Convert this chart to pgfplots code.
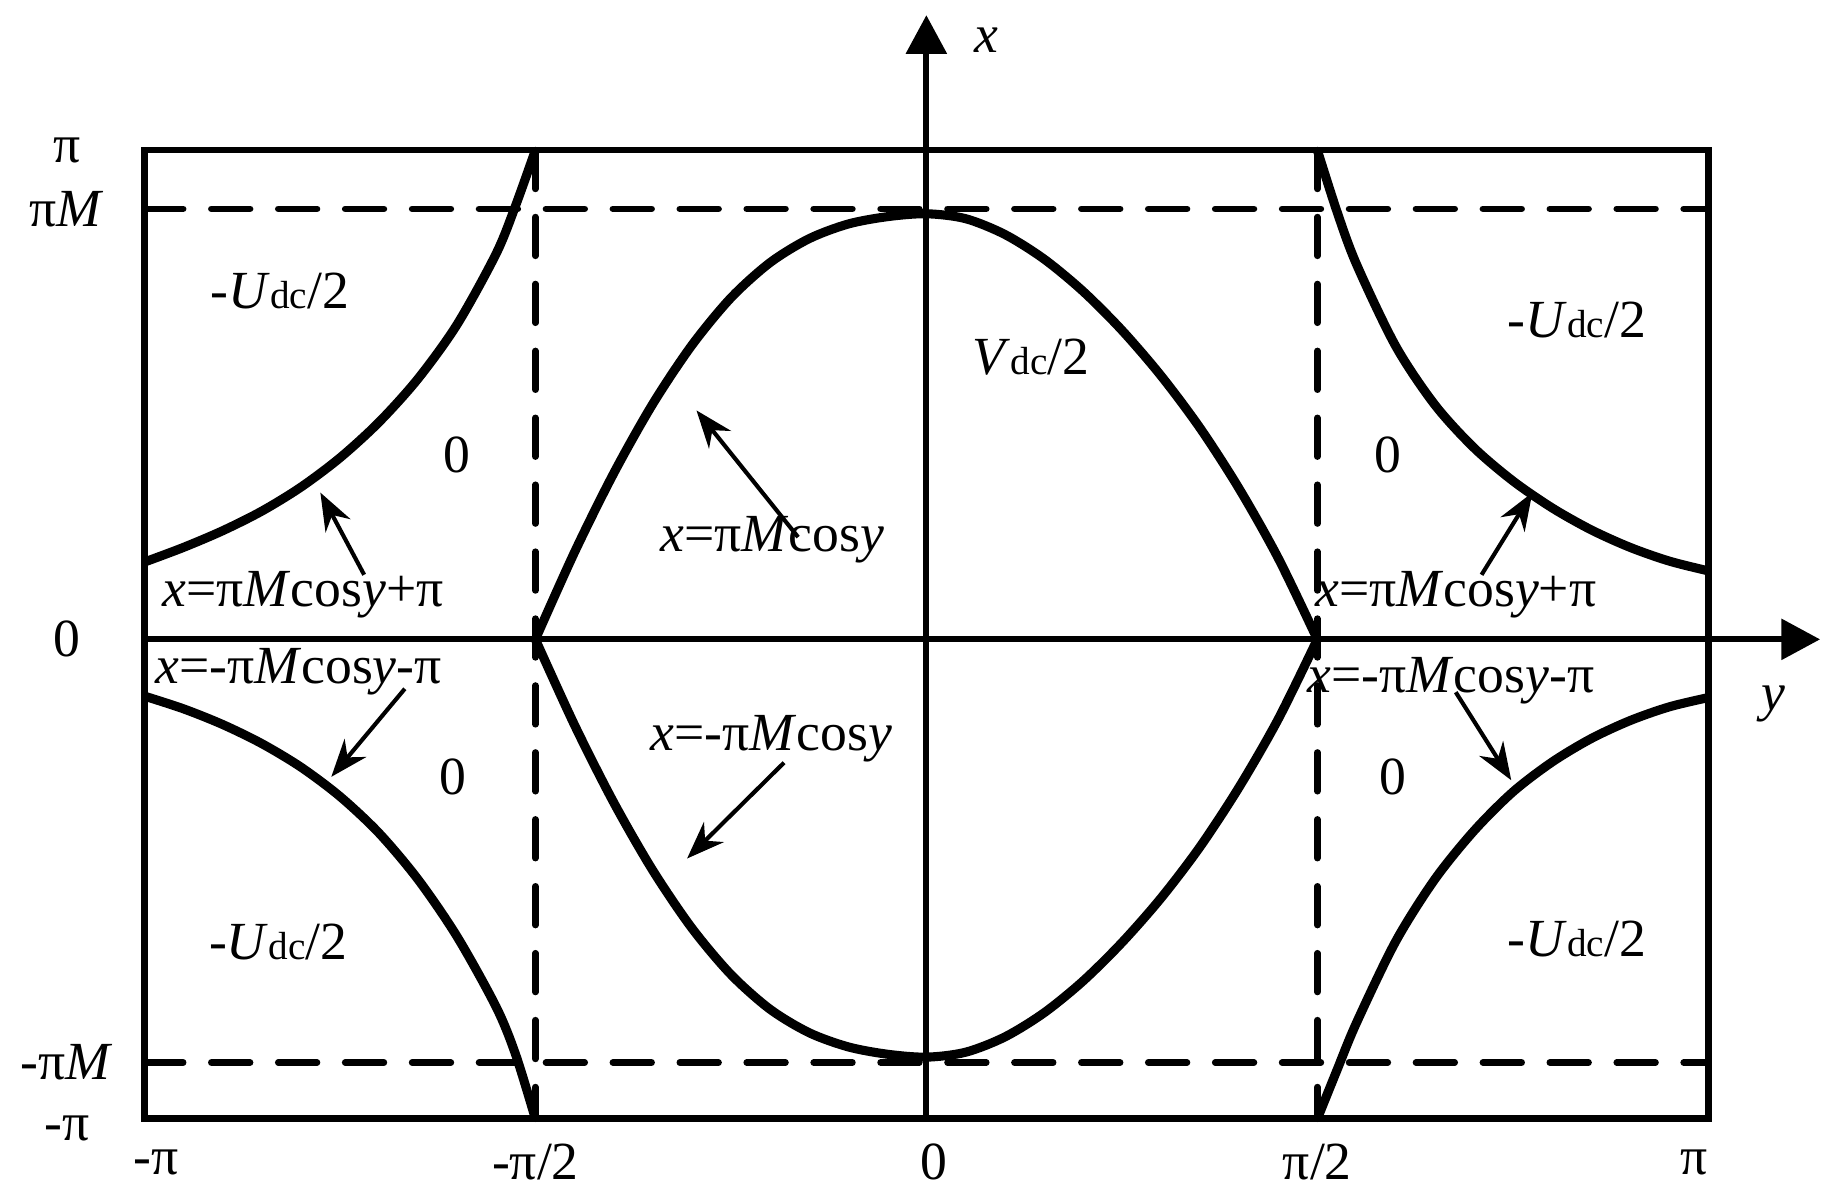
\documentclass[border=0pt]{standalone}
\usepackage{fontspec}
\setmainfont{Liberation Serif}
\usepackage{pgfplots}
\pgfplotsset{compat=1.18}
\usetikzlibrary{arrows.meta}

\newcommand{\dc}{{\fontsize{9.5}{10}\selectfont dc}}
\newcommand{\ud}{-\textit{U}\dc/2}

\begin{document}
\begin{tikzpicture}[font=\fontsize{13}{15}\selectfont]
\begin{axis}[
  scale only axis, width=13.32cm, height=8.25cm,
  xmin=-1, xmax=1, ymin=-0.98, ymax=1,
  axis lines=box,
  axis line style={line width=1.6pt},
  xtick={-1,-0.5,0,0.5,1},
  xticklabels={\hspace*{0.2cm}-π,-π/2,\hspace*{0.12cm}0,π/2,π\hspace*{0.24cm}},
  ytick={-0.865,0,0.88,1},
  yticklabels={-π\textit{M},0,π\textit{M},π},
  major tick length=0pt,
  tick label style={font=\fontsize{13}{15}\selectfont},
  xticklabel style={anchor=center, yshift=-0.37cm},
  yticklabel style={anchor=center, xshift=-0.66cm},
  clip=false,
]
% page size
\path (axis cs:-1.1847,1.307) rectangle (axis cs:1.1697,-1.151);
\node at (axis cs:-1.099,-1.0) {-π};

% dashed guides at +-pi/2 and +-pi M
\addplot[line width=1.6pt, line cap=round, dash pattern=on 0.33cm off 0.24cm] coordinates {(-1,0.88) (1,0.88)};
\addplot[line width=1.6pt, line cap=round, dash pattern=on 0.33cm off 0.24cm] coordinates {(-1,-0.865) (1,-0.865)};
\addplot[line width=1.6pt, line cap=round, dash pattern=on 0.33cm off 0.24cm] coordinates {(-0.5,1) (-0.5,-0.98)};
\addplot[line width=1.6pt, line cap=round, dash pattern=on 0.33cm off 0.24cm] coordinates {(0.5,1) (0.5,-0.98)};

% axes through the origin
\draw[line width=1.5pt, -{Triangle[length=0.33cm,width=0.34cm]}] (axis cs:-1,0) -- (axis cs:1.143,0);
\draw[line width=1.5pt, -{Triangle[length=0.33cm,width=0.34cm]}] (axis cs:0,-0.98) -- (axis cs:0,1.276);
\node at (axis cs:0.077,1.225) {\textit{x}};
\node at (axis cs:1.083,-0.132) {\textit{y}};

% x = pi M cos y
\addplot[line width=2.2pt, smooth, line join=round] coordinates {
  (-0.5,0) (-0.45,0.178) (-0.40,0.339) (-0.35,0.481) (-0.30,0.601)
  (-0.25,0.698) (-0.20,0.770) (-0.15,0.819) (-0.10,0.849) (-0.05,0.864)
  (0,0.870)
  (0.05,0.860) (0.10,0.828) (0.15,0.778) (0.20,0.712) (0.25,0.632)
  (0.30,0.539) (0.35,0.432) (0.40,0.308) (0.45,0.166) (0.5,0)
};
% x = -pi M cos y
\addplot[line width=2.2pt, smooth, line join=round] coordinates {
  (-0.5,0) (-0.45,-0.175) (-0.40,-0.333) (-0.35,-0.472) (-0.30,-0.590)
  (-0.25,-0.685) (-0.20,-0.756) (-0.15,-0.804) (-0.10,-0.833) (-0.05,-0.848)
  (0,-0.854)
  (0.05,-0.844) (0.10,-0.813) (0.15,-0.764) (0.20,-0.699) (0.25,-0.620)
  (0.30,-0.529) (0.35,-0.424) (0.40,-0.302) (0.45,-0.163) (0.5,0)
};
% x = pi M cos y + pi
\addplot[line width=2.2pt, smooth] coordinates {
  (-1,0.158) (-0.95,0.188) (-0.90,0.222) (-0.85,0.262) (-0.80,0.311)
  (-0.75,0.371) (-0.70,0.444) (-0.65,0.533) (-0.60,0.644) (-0.55,0.789)
  (-0.525,0.888) (-0.5,1)
};
\addplot[line width=2.2pt, smooth] coordinates {
  (1,0.140) (0.95,0.160) (0.90,0.188) (0.85,0.224) (0.80,0.269)
  (0.75,0.324) (0.70,0.392) (0.65,0.480) (0.60,0.600) (0.55,0.767)
  (0.525,0.875) (0.5,1)
};
% x = -pi M cos y - pi
\addplot[line width=2.2pt, smooth] coordinates {
  (-1,-0.116) (-0.95,-0.142) (-0.90,-0.174) (-0.85,-0.213) (-0.80,-0.261)
  (-0.75,-0.321) (-0.70,-0.396) (-0.65,-0.491) (-0.60,-0.608) (-0.55,-0.752)
  (-0.525,-0.850) (-0.5,-0.98)
};
\addplot[line width=2.2pt, smooth] coordinates {
  (1,-0.119) (0.95,-0.138) (0.90,-0.166) (0.85,-0.203) (0.80,-0.251)
  (0.75,-0.312) (0.70,-0.392) (0.65,-0.491) (0.60,-0.618) (0.55,-0.784)
  (0.525,-0.881) (0.5,-0.98)
};

% region labels
\node at (axis cs:-0.827,0.712) {\ud};
\node at (axis cs:0.832,0.652) {\ud};
\node at (axis cs:-0.829,-0.619) {\ud};
\node at (axis cs:0.832,-0.612) {\ud};
\node at (axis cs:0.134,0.576) {\textit{V}\dc/2};
\node at (axis cs:-0.601,0.377) {0};
\node at (axis cs:0.590,0.377) {0};
\node at (axis cs:-0.605,-0.281) {0};
\node at (axis cs:0.596,-0.281) {0};

% curve names
\node at (axis cs:-0.197,0.204) {\textit{x}=π\textit{M}cos\textit{y}};
\node at (axis cs:-0.198,-0.204) {\textit{x}=-π\textit{M}cos\textit{y}};
\node at (axis cs:-0.797,0.091) {\textit{x}=π\textit{M}cos\textit{y}+π};
\node at (axis cs:-0.803,-0.067) {\textit{x}=-π\textit{M}cos\textit{y}-π};
\node at (axis cs:0.677,0.091) {\textit{x}=π\textit{M}cos\textit{y}+π};
\node at (axis cs:0.671,-0.084) {\textit{x}=-π\textit{M}cos\textit{y}-π};

% pointers
\begin{scope}[line width=1pt, -{Stealth[length=0.32cm,width=0.24cm]}]
\draw (axis cs:-0.164,0.209) -- (axis cs:-0.294,0.468);
\draw (axis cs:-0.182,-0.252) -- (axis cs:-0.306,-0.448);
\draw (axis cs:-0.719,0.132) -- (axis cs:-0.775,0.300);
\draw (axis cs:-0.667,-0.101) -- (axis cs:-0.761,-0.281);
\draw (axis cs:0.710,0.132) -- (axis cs:0.775,0.300);
\draw (axis cs:0.677,-0.108) -- (axis cs:0.748,-0.288);
\end{scope}
\end{axis}
\end{tikzpicture}
\end{document}
